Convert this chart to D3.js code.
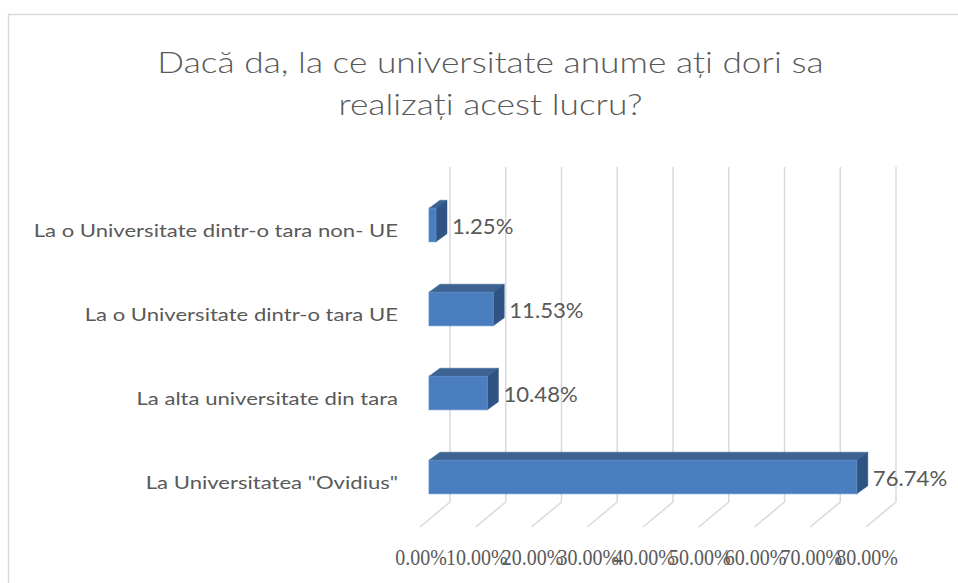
<!DOCTYPE html>
<html>
<head>
<meta charset="utf-8">
<script src="https://cdn.jsdelivr.net/npm/d3@7"></script>
<style>
  html, body { margin: 0; padding: 0; background: #ffffff; }
  svg { display: block; }
</style>
</head>
<body>
<svg id="chart" width="958" height="583"></svg>
<script>
// ---- data ----
const titleLines = ["Dacă da, la ce universitate anume ați dori sa", "realizați acest lucru?"];
const categories = [
  "La o Universitate dintr-o tara non- UE",
  "La o Universitate dintr-o tara UE",
  "La alta universitate din tara",
  "La Universitatea \"Ovidius\""
];
const values = [1.25, 11.53, 10.48, 76.74];
const tickValues = [0, 10, 20, 30, 40, 50, 60, 70, 80];

// ---- layout ----
const svg = d3.select("#chart");
const textColor = "#595959";
const gridColor = "#d9d9d9";
const sansFont = "Lato, 'Open Sans', sans-serif";
const depthX = 11, depthY = -8;          // bar extrusion
const wallDX = 21, floorDY = 25;         // wall offset relative to bar front

const x = d3.scaleLinear().domain([0, 80]).range([429, 875]);
const y = d3.scaleBand().domain(categories).range([183, 519]).paddingInner(0.6).paddingOuter(0.3);

// chart border
svg.append("rect")
  .attr("x", 8.5).attr("y", 14.5).attr("width", 1000).attr("height", 1000)
  .attr("fill", "none").attr("stroke", gridColor).attr("stroke-width", 1.5);

// title
titleLines.forEach((t, i) => {
  svg.append("text")
    .attr("transform", `translate(490.5,${73 + i * 42}) scale(1.24,1)`)
    .attr("text-anchor", "middle")
    .attr("font-family", sansFont)
    .attr("font-weight", 300)
    .attr("font-size", 28.5)
    .attr("fill", textColor)
    .text(t);
});

// gridlines: back wall vertical + floor diagonal
const wallTop = 167, wallBottom = 502;
const grid = svg.append("g");
tickValues.forEach(v => {
  const bx = x(v) + wallDX;
  grid.append("path")
    .attr("d", `M${bx},${wallTop}V${wallBottom}L${bx - 30},${wallBottom + floorDY}`)
    .attr("fill", "none").attr("stroke", gridColor).attr("stroke-width", 1.5);
});

// tick labels
svg.append("g").selectAll("text").data(tickValues).join("text")
  .attr("transform", d => `translate(${x(d) + wallDX - 30 + 1},565) scale(1,1.12)`)
  .attr("text-anchor", "middle")
  .attr("font-family", "'Liberation Serif', serif")
  .attr("font-size", 20)
  .attr("fill", textColor)
  .text(d => d.toFixed(2) + "%");

// bars
const bars = svg.append("g").selectAll("g").data(categories).join("g");
bars.each(function(c, i) {
  const g = d3.select(this);
  const x0 = x(0), x1 = x(values[i]);
  const y0 = y(c), y1 = y(c) + y.bandwidth();
  // top face
  g.append("path")
    .attr("d", `M${x0},${y0}L${x0 + depthX},${y0 + depthY}L${x1 + depthX},${y0 + depthY}L${x1},${y0}Z`)
    .attr("fill", "#3c6392").attr("stroke", "#3c6392").attr("stroke-width", 0.5);
  // side face
  g.append("path")
    .attr("d", `M${x1},${y0}L${x1 + depthX},${y0 + depthY}L${x1 + depthX},${y1 + depthY}L${x1},${y1}Z`)
    .attr("fill", "#2f5484").attr("stroke", "#2f5484").attr("stroke-width", 0.5);
  // front face
  g.append("rect")
    .attr("x", x0).attr("y", y0).attr("width", x1 - x0).attr("height", y1 - y0)
    .attr("fill", "#4a7ebf").attr("stroke", "#5b8bc6").attr("stroke-width", 0.8);
  // value label
  g.append("text")
    .attr("transform", `translate(${x1 + depthX + 5},${(y0 + y1) / 2 + 8.5}) scale(1.08,1)`)
    .attr("font-family", sansFont)
    .attr("font-size", 20.5)
    .attr("fill", textColor)
    .text(values[i].toFixed(2) + "%");
  // category label
  g.append("text")
    .attr("transform", `translate(398,${(y0 + y1) / 2 + 12}) scale(1.3,1)`)
    .attr("text-anchor", "end")
    .attr("font-family", sansFont)
    .attr("font-size", 17)
    .attr("fill", textColor)
    .text(c);
});
</script>
</body>
</html>
